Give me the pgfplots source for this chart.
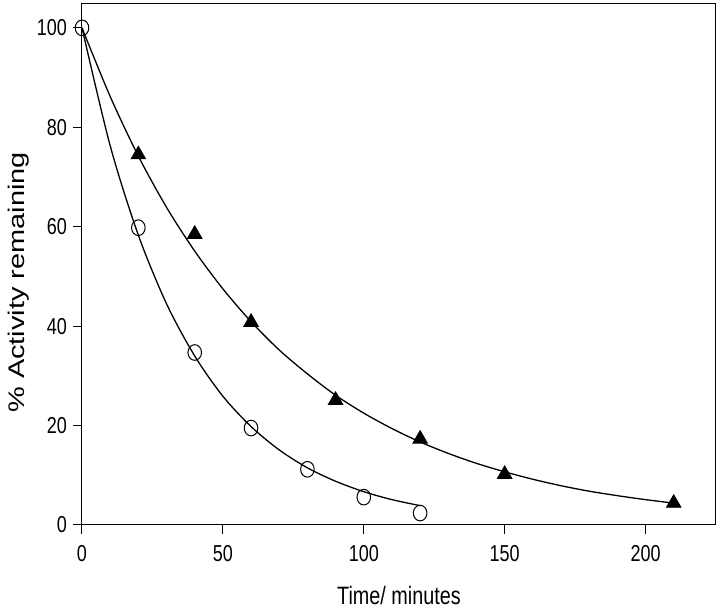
\documentclass[border=0pt]{standalone}
\usepackage{fontspec}
\setmainfont{Liberation Sans}
\usepackage{pgfplots}
\pgfplotsset{compat=1.18}

\begin{document}
\begin{tikzpicture}
\begin{axis}[
    name=ax,
    scale only axis,
    width=317pt, height=261pt,
    xmin=0, xmax=225,
    ymin=0, ymax=105,
    xtick={0,50,100,150,200},
    ytick={0,20,40,60,80,100},
    tick align=outside,
    xtick pos=bottom, ytick pos=left,
    major tick length=4.5pt,
    tick style={black, line width=0.5pt},
    axis line style={black, line width=0.5pt},
    /pgf/number format/assume math mode=true,
    ticklabel style={font=\fontsize{9}{10}\selectfont},
    xticklabel={\scalebox{1}[1.28]{\pgfmathprintnumber{\tick}}},
    yticklabel={\scalebox{1}[1.28]{\pgfmathprintnumber{\tick}}},
    xticklabel style={yshift=-2pt},
    yticklabel style={xshift=0.5pt},
    xlabel={\scalebox{1}[1.27]{Time/ minutes}},
    ylabel={\scalebox{1.28}[1]{\% Activity remaining}},
    every axis x label/.style={at={(rel axis cs:0.5,-0.152)}, anchor=base,
      font=\fontsize{9.9}{11}\selectfont},
    every axis y label/.style={at={(rel axis cs:-0.0912,0.4646)}, anchor=base,
      rotate=90, font=\fontsize{11.3}{13}\selectfont},
  ]
  % fitted curve, triangles
  \addplot[black, line width=0.65pt, smooth, no marks] coordinates {
    (0,100) (10,86.2) (20,74.2) (30,63.9) (40,55.1) (50,47.5) (60,40.9)
    (70,35.2) (80,30.4) (90,26.1) (100,22.5) (110,19.4) (120,16.7)
    (130,14.4) (140,12.4) (150,10.7) (160,9.2) (170,7.9) (180,6.8)
    (190,5.9) (200,5.1) (210,4.4)
  };
  % fitted curve, circles
  \addplot[black, line width=0.65pt, smooth, no marks] coordinates {
    (0,100) (10,76.3) (20,58.3) (30,44.5) (40,34.0) (50,25.9) (60,19.8)
    (70,15.1) (80,11.5) (90,8.8) (100,6.7) (110,5.1) (120,3.9)
  };
  % measured, triangles
  \addplot[only marks, mark=triangle*, mark size=4.2pt, black] coordinates {
    (20,74.5) (40,58.5) (60,40.8) (90,25.1) (120,17.3) (150,10.2) (210,4.4)
  };
  % measured, circles
  \addplot[only marks, mark=o, mark size=3.4pt, black,
    mark options={fill=white, yscale=1.15, line width=0.5pt}] coordinates {
    (0,100) (20,59.8) (40,34.7) (60,19.5) (80,11.2) (100,5.6) (120,2.4)
  };
\end{axis}
\pgfresetboundingbox
\path ([shift={(-41pt,-43pt)}]ax.south west) rectangle ([shift={(2pt,1.5pt)}]ax.north east);
\end{tikzpicture}
\end{document}
